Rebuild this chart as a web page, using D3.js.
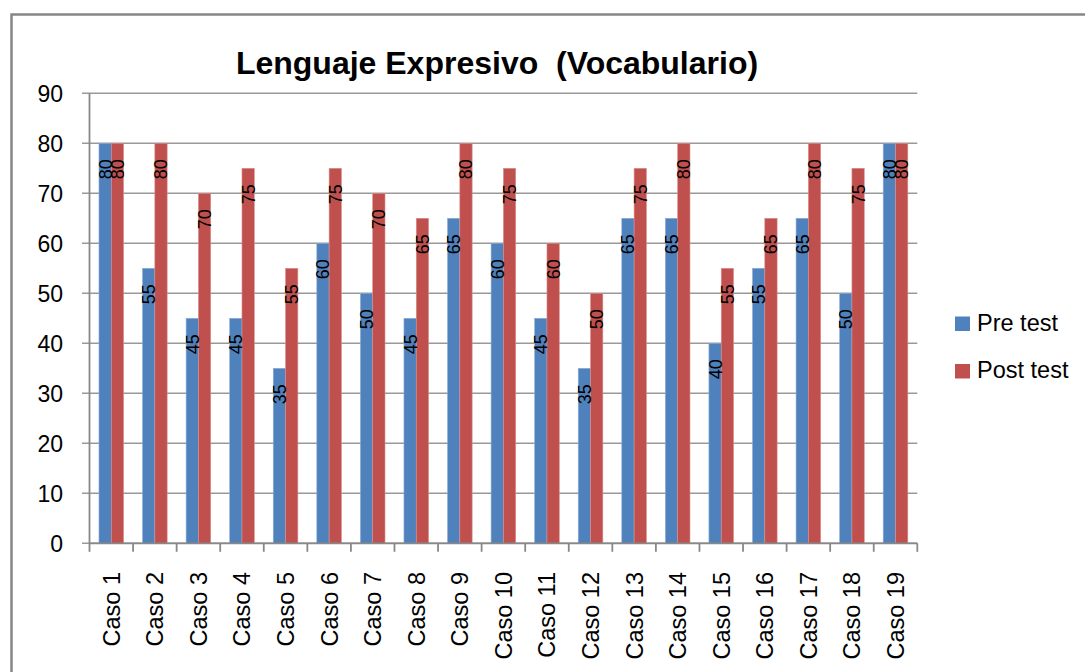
<!DOCTYPE html>
<html>
<head>
<meta charset="utf-8">
<script src="https://cdn.jsdelivr.net/npm/d3@7"></script>
<style>
  body { margin: 0; background: #fff; }
  svg { display: block; font-family: "Liberation Sans", Arial, sans-serif; }
</style>
</head>
<body>
<div id="chart"></div>
<script>
const categories = ['Caso 1', 'Caso 2', 'Caso 3', 'Caso 4', 'Caso 5', 'Caso 6', 'Caso 7', 'Caso 8', 'Caso 9', 'Caso 10',
  'Caso 11', 'Caso 12', 'Caso 13', 'Caso 14', 'Caso 15', 'Caso 16', 'Caso 17', 'Caso 18', 'Caso 19'];
const preTest = [80, 55, 45, 45, 35, 60, 50, 45, 65, 60, 45, 35, 65, 65, 40, 55, 65, 50, 80];
const postTest = [80, 80, 70, 75, 55, 75, 70, 65, 80, 75, 60, 50, 75, 80, 55, 65, 80, 75, 80];
const seriesNames = ['Pre test', 'Post test'];
const yTicks = [0, 10, 20, 30, 40, 50, 60, 70, 80, 90];

const width = 1085, height = 672;
const colors = ['#4F81BD', '#C0504D'];
const plot = { left: 89.5, right: 917.3, top: 93.3, bottom: 543.3 };

const svg = d3.select('#chart').append('svg')
  .attr('width', width)
  .attr('height', height);

// frame of the chart object (only left and top edges show)
svg.append('path')
  .attr('d', `M11.5,${height + 5} V14.5 H${width + 5}`)
  .attr('fill', 'none')
  .attr('stroke', '#868686')
  .attr('stroke-width', 2.5);

const x = d3.scaleBand()
  .domain(categories)
  .range([plot.left, plot.right])
  .paddingInner(0.435)
  .paddingOuter(0.2175);

const xSub = d3.scaleBand()
  .domain(seriesNames)
  .range([0, x.bandwidth()]);

const y = d3.scaleLinear()
  .domain([0, 90])
  .range([plot.bottom, plot.top]);

// gridlines + y ticks
svg.append('g')
  .selectAll('line')
  .data(yTicks)
  .enter().append('line')
  .attr('x1', plot.left - 7.5)
  .attr('x2', plot.right)
  .attr('y1', d => y(d))
  .attr('y2', d => y(d))
  .attr('stroke', '#999')
  .attr('stroke-width', 1.6);

svg.append('g')
  .selectAll('text')
  .data(yTicks)
  .enter().append('text')
  .attr('x', 63)
  .attr('y', d => y(d))
  .attr('dy', '0.36em')
  .attr('text-anchor', 'end')
  .attr('font-size', 23)
  .attr('fill', '#000')
  .text(d => d);

// y axis line
svg.append('line')
  .attr('x1', plot.left).attr('x2', plot.left)
  .attr('y1', plot.top).attr('y2', plot.bottom)
  .attr('stroke', '#888')
  .attr('stroke-width', 1.8);

// bars
const series = [preTest, postTest];
const groups = svg.append('g')
  .selectAll('g')
  .data(categories)
  .enter().append('g')
  .attr('transform', d => `translate(${x(d)},0)`);

groups.selectAll('rect')
  .data((d, i) => series.map((s, k) => ({ key: seriesNames[k], value: s[i], k: k })))
  .enter().append('rect')
  .attr('x', d => xSub(d.key))
  .attr('y', d => y(d.value))
  .attr('width', xSub.bandwidth())
  .attr('height', d => y(0) - y(d.value))
  .attr('fill', d => colors[d.k])
  .attr('stroke', d => d.k === 0 ? '#8eaed6' : '#d9908e')
  .attr('stroke-width', 0.6);

// value labels, rotated, inside end
groups.selectAll('text')
  .data((d, i) => series.map((s, k) => ({ key: seriesNames[k], value: s[i], k: k })))
  .enter().append('text')
  .attr('transform', d => `translate(${xSub(d.key) + xSub.bandwidth() / 2},${y(d.value) + 16}) rotate(-90)`)
  .attr('dy', '0.36em')
  .attr('text-anchor', 'end')
  .attr('font-size', 18)
  .attr('fill', '#000')
  .text(d => d.value);

// x axis line and ticks
svg.append('line')
  .attr('x1', plot.left).attr('x2', plot.right)
  .attr('y1', plot.bottom).attr('y2', plot.bottom)
  .attr('stroke', '#888')
  .attr('stroke-width', 1.8);

const step = x.step();
svg.append('g')
  .selectAll('line')
  .data(d3.range(categories.length + 1))
  .enter().append('line')
  .attr('x1', i => plot.left + i * step)
  .attr('x2', i => plot.left + i * step)
  .attr('y1', plot.bottom)
  .attr('y2', plot.bottom + 8.5)
  .attr('stroke', '#888')
  .attr('stroke-width', 1.8);

svg.append('g')
  .selectAll('text')
  .data(categories)
  .enter().append('text')
  .attr('transform', d => `translate(${x(d) + x.bandwidth() / 2},572) rotate(-90)`)
  .attr('dy', '0.36em')
  .attr('text-anchor', 'end')
  .attr('font-size', 23.5)
  .attr('fill', '#000')
  .text(d => d);

// title
svg.append('text')
  .attr('x', 497)
  .attr('y', 74)
  .attr('text-anchor', 'middle')
  .attr('font-size', 32)
  .attr('font-weight', 'bold')
  .attr('fill', '#000')
  .attr('xml:space', 'preserve')
  .text('Lenguaje Expresivo  (Vocabulario)');

// legend
const legend = svg.append('g')
  .selectAll('g')
  .data(seriesNames)
  .enter().append('g')
  .attr('transform', (d, i) => `translate(955,${316.5 + i * 47.5})`);

legend.append('rect')
  .attr('width', 15)
  .attr('height', 14.5)
  .attr('fill', (d, i) => colors[i]);

legend.append('text')
  .attr('x', 22)
  .attr('y', 14)
  .attr('font-size', 23.5)
  .attr('fill', '#000')
  .text(d => d);
</script>
</body>
</html>
